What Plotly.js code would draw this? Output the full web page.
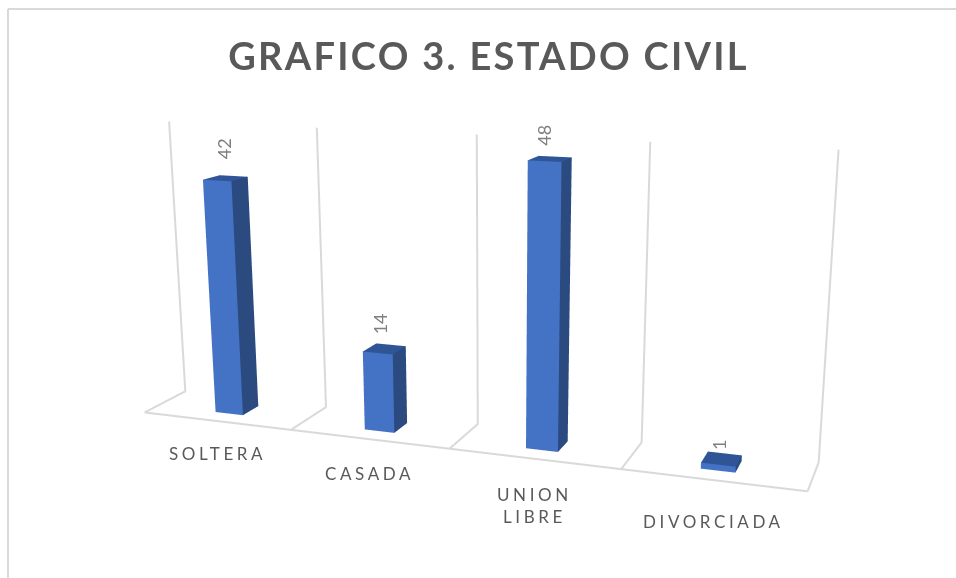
<!DOCTYPE html>
<html><head><meta charset="utf-8">
<script src="https://cdn.plot.ly/plotly-3.0.1.min.js"></script>
<style>
html,body{margin:0;background:#fff;overflow:hidden}
#wrap{position:relative;width:956px;height:578px;overflow:hidden}
#c{position:absolute;left:-88px;top:-240px;width:1166px;height:1166px}
.gtitle{letter-spacing:2.3px}
</style></head>
<body><div id="wrap"><div id="c"></div></div>
<script>
const categories = ['SOLTERA','CASADA','UNION<br>LIBRE','DIVORCIADA'];
const values = [42,14,48,1];
const zTop = 50.6;
const barHalfX = 0.0945, yFront = 0.33, yBack = 0.74;
const FRONT='#4472c4', SIDE='#2b4a80', TOP='#2f5597';
const S=1166, OX=88, OY=240;
const px=x=>(x+OX)/S, py=y=>1-(y+OY)/S;
const valueShiftX=[0,-3,-5,-2], valueShiftY=[17,13,11,8];
const catShiftX=[1,1,1,1], catShiftY=[-20,-22,-23,-29];
const inset=0.002;

function bar(i,v){
  const x0=i-barHalfX,x1=i+barHalfX,y0=yFront,y1=yBack;
  return {type:'mesh3d',
    x:[x0,x1,x1,x0,x0,x1,x1,x0],y:[y0,y0,y1,y1,y0,y0,y1,y1],z:[0,0,0,0,v,v,v,v],
    i:[0,0,4,4,0,0,1,1,2,2,3,3],j:[1,2,5,6,1,5,2,6,3,7,0,4],k:[2,3,6,7,5,4,6,5,7,6,4,7],
    facecolor:[TOP,TOP,TOP,TOP,FRONT,FRONT,SIDE,SIDE,SIDE,SIDE,FRONT,FRONT],
    flatshading:true,lighting:{ambient:1,diffuse:0,specular:0,fresnel:0,roughness:1},hoverinfo:'skip',showscale:false};
}
const traces = values.map((v,i)=>bar(i,v));
const gx=[],gy=[],gz=[];
const xLo=-0.5+inset, xHi=3.5-inset, yLo=inset, yHi=1-inset, zLo=inset*10, zHi=zTop-inset*10;
for(let b=0;b<=4;b++){
  const x=Math.min(xHi,Math.max(xLo,b-0.5));
  gx.push(x,x,x,null);gy.push(yLo,yHi,yHi,null);gz.push(zLo,zLo,zHi,null);
}
gx.push(xLo,xHi,null);gy.push(yLo,yLo,null);gz.push(zLo,zLo,null);
traces.push({type:'scatter3d',mode:'lines',x:gx,y:gy,z:gz,line:{color:'#d9d9d9',width:4},hoverinfo:'skip',showlegend:false});
const spaced=c=>c.split('<br>').map(t=>'<span style="letter-spacing:3.6px">'+t+'</span>').join('<br>');
const valueNotes=values.map((v,i)=>({x:i,y:0.5,z:v,text:String(v),textangle:-90,showarrow:false,yanchor:'bottom',xshift:valueShiftX[i],yshift:valueShiftY[i],font:{size:18,color:'#7f7f7f',family:'Lato'}}));
const catNotes=categories.map((c,i)=>({x:i,y:0,z:0,text:spaced(c),showarrow:false,yanchor:'top',xshift:catShiftX[i],yshift:catShiftY[i],font:{size:17,color:'#595959',family:'Lato'}}));
const axis=r=>({visible:false,showgrid:false,zeroline:false,showspikes:false,range:r,autorange:false});
const layout={width:S,height:S,margin:{l:0,r:0,t:0,b:0},paper_bgcolor:'#fff',showlegend:false,
 title:{text:'<b>GRAFICO 3. ESTADO CIVIL</b>',x:px(488.5),xanchor:'center',xref:'paper',yref:'paper',y:py(57),yanchor:'middle',font:{size:38,color:'#595959',family:'Lato'}},
 shapes:[
  {type:'line',xref:'paper',yref:'paper',x0:px(8),x1:px(8),y0:py(9),y1:py(578),line:{color:'#d9d9d9',width:2}},
  {type:'line',xref:'paper',yref:'paper',x0:px(8),x1:px(956),y0:py(9),y1:py(9),line:{color:'#d9d9d9',width:2}}],
 scene:{domain:{x:[0,1],y:[0,1]},aspectmode:'manual',aspectratio:{x:2.3235,y:0.272,z:0.9995},
   bgcolor:'rgba(0,0,0,0)',
   xaxis:axis([-0.5,3.5]),yaxis:axis([0,1]),zaxis:axis([0,zTop]),
   camera:{eye:{x:1.5965,y:-4.2115,z:1.044},center:{x:0.1135,y:-0.007,z:-0.162},up:{x:0,y:0,z:1},projection:{type:'perspective'}},
   annotations:valueNotes.concat(catNotes)}};
Plotly.newPlot('c',traces,layout,{displayModeBar:false});
</script></body></html>
